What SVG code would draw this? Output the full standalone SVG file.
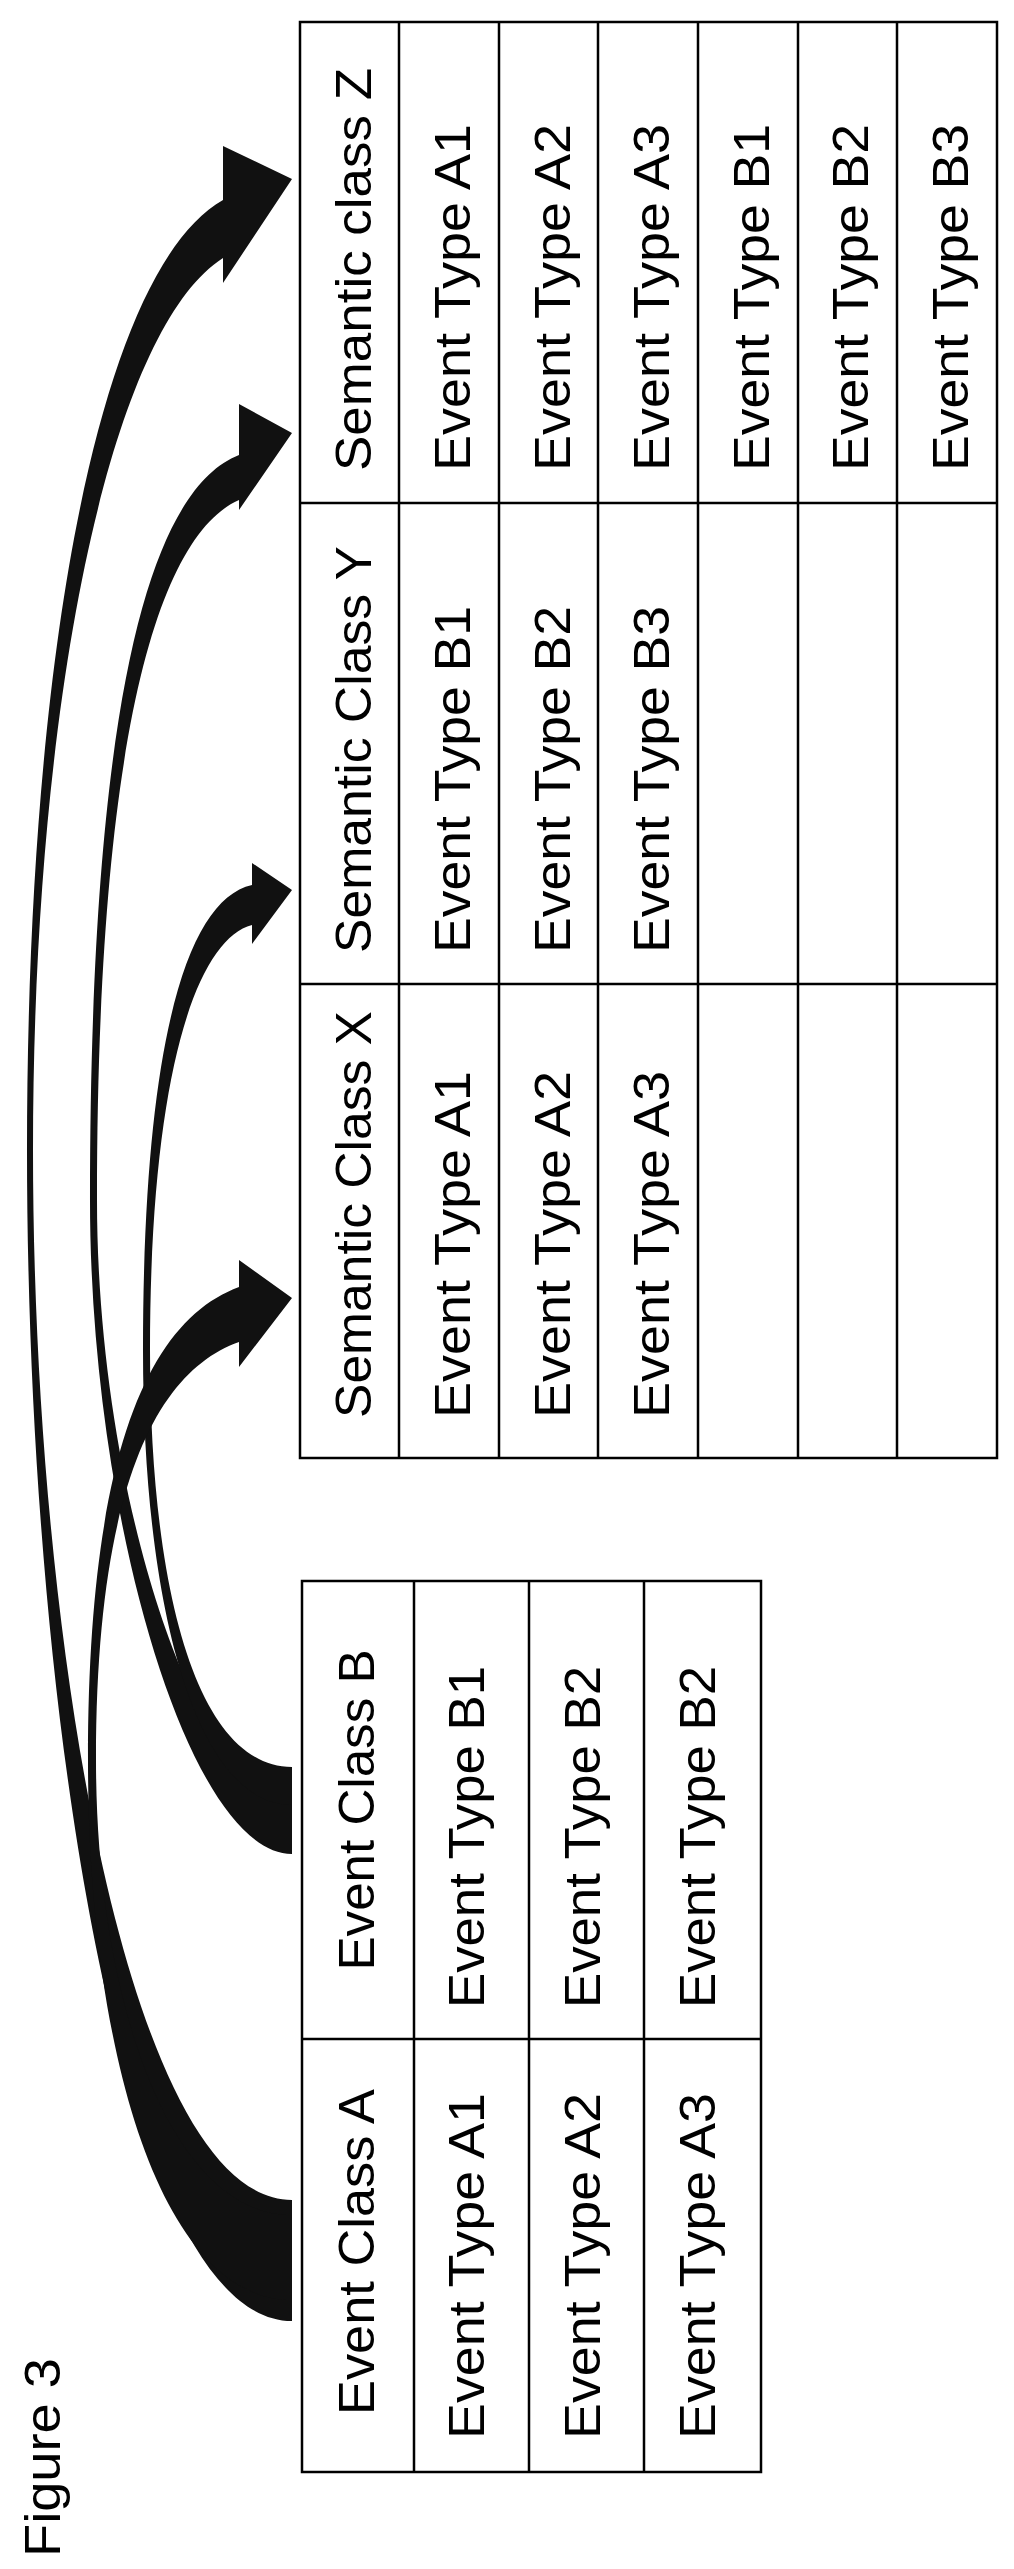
<svg xmlns="http://www.w3.org/2000/svg" width="1014" height="2569" viewBox="0 0 1014 2569">
<style>
.t{font-family:"Liberation Sans",Arial,sans-serif;font-size:50px;fill:#000}
.g{fill:none;stroke:#000;stroke-width:2.5}
.a{fill:#111}
</style>
<rect width="1014" height="2569" fill="#fff"/>
<g id="semantic-table">
<rect class="g" x="300" y="22" width="697" height="1436" stroke-width="3"/>
<path class="g" d="M300,503H997M300,984H997M399,22V1458M499,22V1458M598,22V1458M698,22V1458M798,22V1458M897,22V1458"/>
<text class="t" transform="translate(371,471) rotate(-90)" textLength="403" lengthAdjust="spacingAndGlyphs">Semantic class Z</text>
<text class="t" transform="translate(470,471) rotate(-90)" textLength="347" lengthAdjust="spacingAndGlyphs">Event Type A1</text>
<text class="t" transform="translate(570,471) rotate(-90)" textLength="347" lengthAdjust="spacingAndGlyphs">Event Type A2</text>
<text class="t" transform="translate(669,471) rotate(-90)" textLength="347" lengthAdjust="spacingAndGlyphs">Event Type A3</text>
<text class="t" transform="translate(769,471) rotate(-90)" textLength="347" lengthAdjust="spacingAndGlyphs">Event Type B1</text>
<text class="t" transform="translate(868,471) rotate(-90)" textLength="347" lengthAdjust="spacingAndGlyphs">Event Type B2</text>
<text class="t" transform="translate(968,471) rotate(-90)" textLength="347" lengthAdjust="spacingAndGlyphs">Event Type B3</text>
<text class="t" transform="translate(371,953) rotate(-90)" textLength="407" lengthAdjust="spacingAndGlyphs">Semantic Class Y</text>
<text class="t" transform="translate(470,953) rotate(-90)" textLength="347" lengthAdjust="spacingAndGlyphs">Event Type B1</text>
<text class="t" transform="translate(570,953) rotate(-90)" textLength="347" lengthAdjust="spacingAndGlyphs">Event Type B2</text>
<text class="t" transform="translate(669,953) rotate(-90)" textLength="347" lengthAdjust="spacingAndGlyphs">Event Type B3</text>
<text class="t" transform="translate(371,1418) rotate(-90)" textLength="407" lengthAdjust="spacingAndGlyphs">Semantic Class X</text>
<text class="t" transform="translate(470,1418) rotate(-90)" textLength="347" lengthAdjust="spacingAndGlyphs">Event Type A1</text>
<text class="t" transform="translate(570,1418) rotate(-90)" textLength="347" lengthAdjust="spacingAndGlyphs">Event Type A2</text>
<text class="t" transform="translate(669,1418) rotate(-90)" textLength="347" lengthAdjust="spacingAndGlyphs">Event Type A3</text>
</g>
<g id="event-table">
<rect class="g" x="302" y="1581" width="459" height="891" stroke-width="3"/>
<path class="g" d="M302,2039H761M414,1581V2472M529,1581V2472M644,1581V2472"/>
<text class="t" text-anchor="middle" transform="translate(374,1810) rotate(-90)" textLength="321" lengthAdjust="spacingAndGlyphs">Event Class B</text>
<text class="t" text-anchor="middle" transform="translate(484,1837) rotate(-90)" textLength="342" lengthAdjust="spacingAndGlyphs">Event Type B1</text>
<text class="t" text-anchor="middle" transform="translate(600,1837) rotate(-90)" textLength="342" lengthAdjust="spacingAndGlyphs">Event Type B2</text>
<text class="t" text-anchor="middle" transform="translate(715,1837) rotate(-90)" textLength="342" lengthAdjust="spacingAndGlyphs">Event Type B2</text>
<text class="t" text-anchor="middle" transform="translate(374,2252) rotate(-90)" textLength="326" lengthAdjust="spacingAndGlyphs">Event Class A</text>
<text class="t" text-anchor="middle" transform="translate(484,2266) rotate(-90)" textLength="346" lengthAdjust="spacingAndGlyphs">Event Type A1</text>
<text class="t" text-anchor="middle" transform="translate(600,2266) rotate(-90)" textLength="346" lengthAdjust="spacingAndGlyphs">Event Type A2</text>
<text class="t" text-anchor="middle" transform="translate(715,2266) rotate(-90)" textLength="346" lengthAdjust="spacingAndGlyphs">Event Type A3</text>
</g>
<g id="title">
<text class="t" transform="translate(60,2557) rotate(-90)" textLength="199" lengthAdjust="spacingAndGlyphs">Figure 3</text>
</g>
<g id="connectors">
<path class="a" d="M223,146 L292,179 L223,283 L223,258 C110,330 33,700 33,1150 C33,1650 130,2200 292,2200 L292,2321 C120,2321 27,1700 27,1150 C27,650 100,270 223,200 Z"/>
<path class="a" d="M239,404 L292,433 L239,510 L239,500 C160,535 97,730 97,1200 C97,1500 200,1800 292,1800 L292,1854 C190,1854 90,1520 90,1200 C90,700 150,490 239,455 Z"/>
<path class="a" d="M252,863 L292,890 L252,944 L252,925 C195,940 150,1080 150,1350 C150,1600 200,1767 292,1767 L292,1805 C200,1805 143,1620 143,1350 C143,1050 185,900 252,885 Z"/>
<path class="a" d="M239,1260 L292,1298 L239,1367 L239,1342 C160,1370 96,1480 96,1760 C96,2000 170,2215 292,2215 L292,2300 C160,2300 88,2050 88,1760 C88,1450 150,1320 239,1287 Z"/>
</g>
</svg>
